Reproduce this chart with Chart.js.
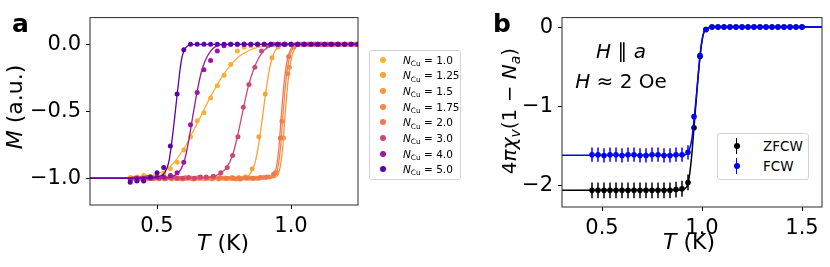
<!DOCTYPE html>
<html>
<head>
<meta charset="utf-8">
<script src="https://cdn.jsdelivr.net/npm/chart.js@4.4.1/dist/chart.umd.min.js"></script>
<style>
  html, body { margin: 0; padding: 0; background: #fff; }
  body { width: 830px; height: 267px; position: relative; overflow: hidden; font-family: 'DejaVu Sans', sans-serif; color: #000; }
  canvas { position: absolute; top: 0; }
  #chartA { left: 0; }
  #chartB { left: 480px; }
  .txt { position: absolute; line-height: 1; white-space: nowrap; }
  .panel { font-size: 25px; font-weight: bold; }
  .axt { font-size: 22px; }
  .axt2 { font-size: 20px; }
  .sub { font-size: 70%; position: relative; top: 0.28em; }
  .rot { transform: translate(-50%, -50%) rotate(-90deg); }
  .cx { transform: translateX(-50%); }
  .note { font-size: 20px; }
  .legend { position: absolute; border: 1px solid #d4d4d4; border-radius: 3px; background: #fff; }
  #legendA { left: 369px; top: 50px; width: 90px; height: 127px; padding-top: 1px; }
  #legendB { left: 717px; top: 133px; width: 90px; height: 43px; padding-top: 2px; }
  .lrow { display: flex; align-items: center; white-space: nowrap; }
  #legendA .lrow { height: 15.67px; font-size: 10.5px; }
  #legendB .lrow { height: 19.7px; font-size: 13.5px; }
  .dot { display: inline-block; width: 6px; height: 6px; border-radius: 50%; }
  #legendA .dot { margin-left: 10px; margin-right: 17px; }
  .emark { position: relative; display: inline-block; width: 7px; height: 16px; margin-left: 15px; margin-right: 23px; }
  .emark .bar { position: absolute; left: 2.75px; top: 0; width: 1.5px; height: 16px; }
  .emark .dot { position: absolute; left: 0.5px; top: 5px; }
</style>
</head>
<body>
<canvas id="chartA" width="366" height="267"></canvas>
<canvas id="chartB" width="350" height="267"></canvas>

<div class="txt panel" style="left:12px; top:11px;">a</div>
<div class="txt panel" style="left:493px; top:11px;">b</div>

<div class="txt axt cx" style="left:223px; top:232px;"><i>T</i> (K)</div>
<div class="txt axt cx" style="left:689px; top:231px;"><i>T</i> (K)</div>
<div class="txt axt rot" style="left:15px; top:107px;"><i>M</i> (a.u.)</div>
<div class="txt axt2 rot" style="left:509px; top:111px;">4<i>πχ</i><span class="sub"><i>v</i></span>(1 − <i>N</i><span class="sub"><i>a</i></span>)</div>

<div class="txt note cx" style="left:621px; top:41px;"><i>H</i> ∥ <i>a</i></div>
<div class="txt note cx" style="left:621px; top:71px;"><i>H</i> ≈ 2 Oe</div>

<div id="legendA" class="legend"></div>
<div id="legendB" class="legend"></div>

<script>
// --- PANEL A: M(T) for different N_Cu ---

const nCuValues = ['1.0', '1.25', '1.5', '1.75', '2.0', '3.0', '4.0', '5.0'];
const colorsA = ['#fcb030', '#fba238', '#f89540', '#f3874a', '#ed7953', '#cc4778', '#9c179e', '#5c01a6'];

const xTicksA = [0.5, 1.0];
const yTicksA = [-1.0, -0.5, 0.0];

// common temperature grid (N = 1.0, 4.0, 5.0)
const tempGrid = [0.400, 0.425, 0.450, 0.475, 0.500, 0.525, 0.550, 0.575, 0.600, 0.625, 0.650, 0.675,
  0.700, 0.725, 0.750, 0.775, 0.800, 0.825, 0.850, 0.875, 0.900, 0.925, 0.950, 0.975, 1.000, 1.025,
  1.050, 1.075, 1.100, 1.125, 1.150, 1.175, 1.200, 1.225, 1.250];

const mN10 = [-0.995, -0.99, -0.98, -0.985, -0.975, -0.965, -0.93, -0.88, -0.79, -0.69, -0.57, -0.51,
  -0.40, -0.31, -0.23, -0.15, -0.05, -0.02, -0.01, 0, 0, 0, 0, 0, 0, 0, 0, 0, 0, 0, 0, 0, 0, 0, 0];
const mN40 = [-1.01, -1.0, -1.0, -1.0, -0.99, -0.99, -0.98, -0.96, -0.88, -0.60, -0.36, -0.19,
  -0.12, -0.05, -0.01, 0, 0, 0, 0, 0, 0, 0, 0, 0, 0, 0, 0, 0, 0, 0, 0, 0, 0, 0, 0];
const mN50 = [-1.03, -1.02, -1.02, -0.99, -0.96, -0.92, -0.76, -0.37, -0.04, 0, 0, 0,
  0, 0, 0, 0, 0, 0, 0, 0, 0, 0, 0, 0, 0, 0, 0, 0, 0, 0, 0, 0, 0, 0, 0];

const tN125 = [0.405, 0.430, 0.455, 0.480, 0.505, 0.530, 0.555, 0.580, 0.605, 0.630, 0.655, 0.680,
  0.705, 0.730, 0.755, 0.780, 0.805, 0.830, 0.855, 0.880, 0.904, 0.929, 0.952, 0.977, 1.002, 1.027,
  1.052, 1.077, 1.102, 1.127, 1.152, 1.177, 1.202, 1.227];
const mN125 = [-1.0, -1.0, -0.995, -1.0, -1.0, -1.005, -1.0, -1.0, -0.995, -1.0, -1.0, -1.0,
  -1.005, -1.0, -1.0, -0.995, -0.995, -0.99, -0.93, -0.69, -0.37, -0.10, -0.02, 0, 0, 0,
  0, 0, 0, 0, 0, 0, 0, 0];

const tN15 = [0.420, 0.445, 0.470, 0.495, 0.520, 0.545, 0.570, 0.595, 0.620, 0.645, 0.670, 0.695,
  0.720, 0.745, 0.770, 0.795, 0.820, 0.845, 0.870, 0.895, 0.920, 0.947, 0.972, 0.994, 1.020, 1.045,
  1.070, 1.095, 1.120, 1.145, 1.170, 1.195, 1.220, 1.245];
const mN15 = [-1.0, -1.005, -1.0, -1.0, -1.0, -0.995, -1.0, -1.005, -1.0, -1.0, -1.0, -1.0,
  -0.995, -1.0, -1.0, -1.005, -1.0, -1.0, -1.0, -0.995, -0.99, -0.96, -0.70, -0.17, 0, 0,
  0, 0, 0, 0, 0, 0, 0, 0];

const tN175 = [0.405, 0.430, 0.455, 0.480, 0.505, 0.530, 0.555, 0.580, 0.605, 0.630, 0.655, 0.680,
  0.705, 0.730, 0.755, 0.780, 0.805, 0.830, 0.855, 0.880, 0.905, 0.941, 0.966, 0.988, 1.010, 1.035,
  1.060, 1.085, 1.110, 1.135, 1.160, 1.185, 1.210, 1.235];
const mN175 = [-1.005, -1.0, -1.0, -0.995, -1.0, -1.0, -1.005, -1.0, -1.0, -1.0, -0.995, -1.0,
  -1.0, -1.005, -1.0, -1.0, -1.0, -0.995, -1.0, -1.0, -0.995, -0.96, -0.575, -0.22, -0.02, 0,
  0, 0, 0, 0, 0, 0, 0, 0];

const tN20 = [0.410, 0.435, 0.460, 0.485, 0.510, 0.535, 0.560, 0.585, 0.610, 0.635, 0.660, 0.685,
  0.710, 0.735, 0.760, 0.785, 0.810, 0.835, 0.860, 0.885, 0.910, 0.935, 0.960, 0.991, 1.015, 1.040,
  1.065, 1.090, 1.115, 1.140, 1.165, 1.190, 1.215, 1.240];
const mN20 = [-1.0, -1.0, -1.005, -1.0, -1.0, -1.0, -0.995, -1.0, -1.0, -1.005, -1.0, -1.0,
  -1.0, -0.995, -1.0, -1.0, -1.005, -1.0, -1.0, -0.995, -0.99, -0.97, -0.70, -0.09, -0.005, 0,
  0, 0, 0, 0, 0, 0, 0, 0];

const tN30 = [0.420, 0.442, 0.464, 0.486, 0.508, 0.530, 0.552, 0.574, 0.596, 0.618, 0.640, 0.662,
  0.684, 0.710, 0.738, 0.762, 0.782, 0.802, 0.822, 0.843, 0.865, 0.890, 0.914, 0.936, 0.958, 0.980,
  1.002, 1.024, 1.046, 1.068, 1.090, 1.112, 1.134, 1.156, 1.178, 1.200, 1.222, 1.244];
const mN30 = [-1.0, -1.0, -0.995, -1.0, -1.0, -1.0, -0.995, -1.0, -1.0, -0.995, -1.0, -0.99,
  -0.99, -0.985, -0.96, -0.92, -0.83, -0.69, -0.47, -0.30, -0.17, -0.05, -0.01, 0, 0, 0,
  0, 0, 0, 0, 0, 0, 0, 0, 0, 0, 0, 0];

// fitted curves
const fitTN10 = [0.25, 0.45, 0.50, 0.55, 0.60, 0.65, 0.70, 0.75, 0.80, 0.85, 0.90, 0.95, 1.25];
const fitMN10 = [-1.0, -0.99, -0.97, -0.91, -0.78, -0.59, -0.39, -0.22, -0.10, -0.04, -0.012, -0.003, 0];
const fitTN125 = [0.25, 0.82, 0.85, 0.87, 0.89, 0.905, 0.92, 0.935, 0.95, 0.97, 1.0, 1.25];
const fitMN125 = [-1.0, -0.995, -0.96, -0.85, -0.60, -0.37, -0.18, -0.07, -0.025, -0.005, 0, 0];
const fitTN15 = [0.25, 0.939, 0.954, 0.964, 0.971, 0.977, 0.984, 0.992, 1.002, 1.012, 1.024, 1.044, 1.25];
const fitMN15 = [-1.0, -0.995, -0.96, -0.86, -0.72, -0.55, -0.38, -0.22, -0.10, -0.04, -0.01, 0, 0];
const fitTN175 = [0.25, 0.931, 0.946, 0.956, 0.963, 0.969, 0.976, 0.984, 0.994, 1.004, 1.016, 1.036, 1.25];
const fitMN175 = [-1.0, -0.995, -0.96, -0.86, -0.72, -0.55, -0.38, -0.22, -0.10, -0.04, -0.01, 0, 0];
const fitTN20 = [0.25, 0.925, 0.94, 0.95, 0.957, 0.963, 0.97, 0.978, 0.988, 0.998, 1.01, 1.03, 1.25];
const fitMN20 = [-1.0, -0.995, -0.96, -0.86, -0.72, -0.55, -0.38, -0.22, -0.10, -0.04, -0.01, 0, 0];
const fitTN30 = [0.25, 0.69, 0.73, 0.76, 0.78, 0.80, 0.82, 0.84, 0.86, 0.88, 0.90, 0.92, 0.95, 1.25];
const fitMN30 = [-1.0, -0.995, -0.97, -0.92, -0.84, -0.69, -0.50, -0.32, -0.19, -0.10, -0.045, -0.015, 0, 0];
const fitTN40 = [0.25, 0.54, 0.57, 0.59, 0.605, 0.62, 0.635, 0.65, 0.665, 0.68, 0.70, 0.72, 0.75, 1.25];
const fitMN40 = [-1.0, -0.995, -0.975, -0.93, -0.85, -0.70, -0.52, -0.35, -0.21, -0.12, -0.05, -0.015, 0, 0];
const fitTN50 = [0.25, 0.48, 0.51, 0.53, 0.545, 0.56, 0.575, 0.59, 0.60, 0.615, 0.64, 1.25];
const fitMN50 = [-1.0, -0.995, -0.985, -0.955, -0.87, -0.65, -0.38, -0.13, -0.05, -0.01, 0, 0];

// --- PANEL B: susceptibility, ZFCW / FCW ---

const xTicksB = [0.5, 1.0, 1.5];
const yTicksB = [-2, -1, 0];

const tempB = [0.45, 0.48, 0.51, 0.54, 0.57, 0.60, 0.63, 0.66, 0.69, 0.72, 0.75, 0.78, 0.81, 0.84,
  0.87, 0.90, 0.93, 0.96, 0.99, 1.02, 1.05, 1.08, 1.11, 1.14, 1.17, 1.20, 1.23, 1.26, 1.29, 1.32,
  1.35, 1.38, 1.41, 1.44, 1.47, 1.50];
const chiZFCW = [-2.06, -2.06, -2.06, -2.06, -2.06, -2.06, -2.06, -2.06, -2.06, -2.06, -2.06, -2.06,
  -2.06, -2.06, -2.05, -2.04, -1.96, -1.27, -0.37, -0.03, 0, 0, 0, 0, 0, 0, 0, 0, 0, 0, 0, 0, 0, 0, 0, 0];
const errZFCW = [0.1, 0.1, 0.1, 0.1, 0.1, 0.1, 0.1, 0.1, 0.1, 0.1, 0.1, 0.1, 0.1, 0.1, 0.1, 0.1, 0.1,
  0, 0, 0, 0, 0, 0, 0, 0, 0, 0, 0, 0, 0, 0, 0, 0, 0, 0, 0];
const chiFCW = [-1.61, -1.61, -1.62, -1.61, -1.61, -1.62, -1.61, -1.61, -1.62, -1.62, -1.61, -1.61,
  -1.62, -1.62, -1.61, -1.61, -1.58, -1.13, -0.36, -0.03, 0, 0, 0, 0, 0, 0, 0, 0, 0, 0, 0, 0, 0, 0, 0, 0];
const errFCW = [0.09, 0.09, 0.09, 0.09, 0.09, 0.09, 0.09, 0.09, 0.09, 0.09, 0.09, 0.09, 0.09, 0.09,
  0.09, 0.09, 0.09, 0, 0, 0, 0, 0, 0, 0, 0, 0, 0, 0, 0, 0, 0, 0, 0, 0, 0, 0];

const fitTZFCW = [0.30, 0.90, 0.915, 0.93, 0.94, 0.95, 0.96, 0.97, 0.98, 0.99, 1.0, 1.01, 1.02, 1.035, 1.05, 1.60];
const fitMZFCW = [-2.06, -2.055, -2.04, -1.97, -1.82, -1.58, -1.27, -0.95, -0.64, -0.37, -0.17, -0.06, -0.02, -0.005, 0, 0];
const fitTFCW = [0.30, 0.90, 0.92, 0.935, 0.95, 0.96, 0.97, 0.98, 0.99, 1.0, 1.01, 1.02, 1.035, 1.05, 1.60];
const fitMFCW = [-1.617, -1.617, -1.605, -1.56, -1.40, -1.17, -0.92, -0.64, -0.37, -0.17, -0.06, -0.02, -0.005, 0, 0];


// --- HELPERS ---

Chart.defaults.font.family = "'DejaVu Sans', sans-serif";
Chart.defaults.color = '#000';

const toPoints = (xs, ys) => xs.map((x, i) => ({ x, y: ys[i] }));
const fmtOne = v => (v < 0 ? '\u2212' : '') + Math.abs(v).toFixed(1);
const fmtInt = v => (v < 0 ? '\u2212' : '') + Math.abs(v).toFixed(0);

// matplotlib-agtig ramme rundt om plotområdet
const framePlugin = {
  id: 'frame',
  afterDatasetsDraw(chart) {
    const { ctx, chartArea: a } = chart;
    ctx.save();
    ctx.strokeStyle = '#2a2a2a';
    ctx.lineWidth = 1;
    ctx.strokeRect(a.left, a.top, a.right - a.left, a.bottom - a.top);
    ctx.restore();
  }
};

// lodrette fejlstreger, tegnes under punkterne
const errorBarPlugin = {
  id: 'errorBars',
  beforeDatasetDraw(chart, args) {
    const ds = chart.data.datasets[args.index];
    if (!ds.errors) return;
    const { ctx, chartArea: a } = chart;
    const xs = chart.scales.x, ys = chart.scales.y;
    ctx.save();
    ctx.beginPath();
    ctx.rect(a.left, a.top, a.right - a.left, a.bottom - a.top);
    ctx.clip();
    ctx.strokeStyle = ds.borderColor;
    ctx.lineWidth = 1.5;
    ds.data.forEach((p, i) => {
      const e = ds.errors[i];
      if (!e) return;
      const x = xs.getPixelForValue(p.x);
      ctx.beginPath();
      ctx.moveTo(x, ys.getPixelForValue(p.y - e));
      ctx.lineTo(x, ys.getPixelForValue(p.y + e));
      ctx.stroke();
    });
    ctx.restore();
  }
};

function makeScale(min, max, tickValues, format, size, axis) {
  return {
    type: 'linear',
    min, max,
    afterBuildTicks: s => { s.ticks = tickValues.map(v => ({ value: v })); },
    afterFit: s => { if (axis === 'x') s.height = size; else s.width = size; },
    ticks: { callback: format, font: { size: 21 }, color: '#000', padding: 5, maxRotation: 0, autoSkip: false },
    grid: { display: true, drawOnChartArea: false, drawTicks: true, tickLength: 4, tickWidth: 1, tickColor: '#000' },
    border: { display: false }
  };
}

function baseOptions(padding, scales) {
  return {
    responsive: false,
    animation: false,
    events: [],
    layout: { padding },
    plugins: { legend: { display: false }, tooltip: { enabled: false } },
    scales
  };
}


// --- PANEL A ---

const seriesA = [
  { n: nCuValues[0], t: tempGrid, m: mN10, ft: fitTN10, fm: fitMN10 },
  { n: nCuValues[1], t: tN125, m: mN125, ft: fitTN125, fm: fitMN125 },
  { n: nCuValues[2], t: tN15, m: mN15, ft: fitTN15, fm: fitMN15 },
  { n: nCuValues[3], t: tN175, m: mN175, ft: fitTN175, fm: fitMN175 },
  { n: nCuValues[4], t: tN20, m: mN20, ft: fitTN20, fm: fitMN20 },
  { n: nCuValues[5], t: tN30, m: mN30, ft: fitTN30, fm: fitMN30 },
  { n: nCuValues[6], t: tempGrid, m: mN40, ft: fitTN40, fm: fitMN40 },
  { n: nCuValues[7], t: tempGrid, m: mN50, ft: fitTN50, fm: fitMN50 }
];

const datasetsA = [];
seriesA.forEach((s, i) => {
  datasetsA.push({
    type: 'scatter',
    label: 'N_Cu = ' + s.n,
    nCu: s.n,
    data: toPoints(s.t, s.m),
    backgroundColor: colorsA[i],
    borderColor: colorsA[i],
    pointRadius: 2.5,
    pointBorderWidth: 0,
    order: 100 - 2 * i
  });
  datasetsA.push({
    type: 'line',
    label: 'fit ' + s.n,
    isFit: true,
    data: toPoints(s.ft, s.fm),
    borderColor: colorsA[i],
    borderWidth: 1.3,
    pointRadius: 0,
    fill: false,
    cubicInterpolationMode: 'monotone',
    order: 101 - 2 * i
  });
});

const chartA = new Chart(document.getElementById('chartA'), {
  type: 'scatter',
  data: { datasets: datasetsA },
  options: baseOptions({ left: 0, right: 8, top: 5, bottom: 0 }, {
    x: makeScale(0.25, 1.25, xTicksA, fmtOne, 62, 'x'),
    y: makeScale(-1.2, 0.2, yTicksA, fmtOne, 90, 'y')
  }),
  plugins: [framePlugin]
});


// --- PANEL B ---

const chartB = new Chart(document.getElementById('chartB'), {
  type: 'scatter',
  data: {
    datasets: [
      { type: 'scatter', label: 'ZFCW', data: toPoints(tempB, chiZFCW), errors: errZFCW,
        backgroundColor: '#000', borderColor: '#000', pointRadius: 2.8, pointBorderWidth: 0, order: 3 },
      { type: 'scatter', label: 'FCW', data: toPoints(tempB, chiFCW), errors: errFCW,
        backgroundColor: '#0000ff', borderColor: '#0000ff', pointRadius: 2.8, pointBorderWidth: 0, order: 1 },
      { type: 'line', label: 'fit ZFCW', isFit: true, data: toPoints(fitTZFCW, fitMZFCW),
        borderColor: '#000', borderWidth: 1.5, pointRadius: 0, fill: false, cubicInterpolationMode: 'monotone', order: 4 },
      { type: 'line', label: 'fit FCW', isFit: true, data: toPoints(fitTFCW, fitMFCW),
        borderColor: '#0000ff', borderWidth: 1.5, pointRadius: 0, fill: false, cubicInterpolationMode: 'monotone', order: 2 }
    ]
  },
  options: baseOptions({ left: 0, right: 8, top: 14, bottom: 0 }, {
    x: makeScale(0.3, 1.6, xTicksB, fmtOne, 60, 'x'),
    y: makeScale(-2.27, 0.12, yTicksB, fmtInt, 82, 'y')
  }),
  plugins: [framePlugin, errorBarPlugin]
});


// --- LEGENDS (HTML, bygget fra graf-dataene) ---

function legendItems(chart) {
  return chart.legend.legendItems
    .filter(it => !chart.data.datasets[it.datasetIndex].isFit)
    .sort((p, q) => p.datasetIndex - q.datasetIndex);
}

legendItems(chartA).forEach(it => {
  const ds = chartA.data.datasets[it.datasetIndex];
  const row = document.createElement('div');
  row.className = 'lrow';
  row.innerHTML = `<span class="dot" style="background:${it.fillStyle}"></span>` +
    `<span><i>N</i><span class="sub">Cu</span> = ${ds.nCu}</span>`;
  document.getElementById('legendA').appendChild(row);
});

legendItems(chartB).forEach(it => {
  const row = document.createElement('div');
  row.className = 'lrow';
  row.innerHTML = `<span class="emark"><span class="bar" style="background:${it.fillStyle}"></span>` +
    `<span class="dot" style="background:${it.fillStyle}"></span></span><span>${it.text}</span>`;
  document.getElementById('legendB').appendChild(row);
});
</script>
</body>
</html>
